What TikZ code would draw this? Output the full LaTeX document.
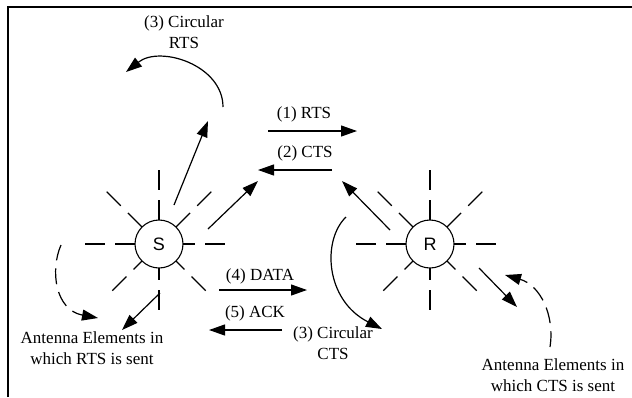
\documentclass[tikz,border=0pt]{standalone}
\usepackage{fontspec}
\setmainfont{Liberation Serif}
\newfontfamily\stnfont{Liberation Sans}
\usetikzlibrary{arrows.meta,backgrounds}

\begin{document}
\begin{tikzpicture}[x=1pt,y=-1pt,
  every node/.style={font=\fontsize{17}{20.5}\selectfont,align=center},
  station/.style={circle,draw,fill=white,line width=1.1pt,minimum size=48pt,
                  inner sep=0pt,font=\fontsize{18}{20}\stnfont},
  elem/.style={line width=1.1pt,dash pattern=on 20pt off 10pt},
  sig/.style={line width=1.2pt,-{Triangle[length=16pt,width=11pt]}},
  sweep/.style={sig,dash pattern=on 16pt off 8pt}]
  \useasboundingbox (0,0) rectangle (632,397);
  \draw[line width=2pt] (8,397) -- (8,7) -- (632,7);

  % stations and their antenna elements
  \node[station] (S) at (159,244) {S};
  \node[station] (R) at (430,244) {R};
  \begin{scope}[on background layer]
    \foreach \n in {S,R}
      \foreach \a in {180,225,270,315}
        \draw[elem] ([shift={(\a:74)}]\n.center) -- ([shift={(\a+180:66)}]\n.center);
  \end{scope}

  % labels
  \node (circrts) at (184,32)  {(3) Circular\\RTS};
  \node (rtslbl)  at (304,114) {(1) RTS};
  \node (ctslbl)  at (305,153) {(2) CTS};
  \node (datalbl) at (260,276) {(4) DATA};
  \node (acklbl)  at (255,313) {(5) ACK};
  \node (circcts) at (333,343) {(3) Circular\\CTS};
  \node (rtsset)  at (92,348)  {Antenna Elements in\\which RTS is sent};
  \node (ctsset)  at (553,375) {Antenna Elements in\\which CTS is sent};

  % end points of the signals
  \coordinate (sUp)    at (174,205);  \coordinate (sUpE)   at (208,121);
  \coordinate (arcA)   at (223,107);  \coordinate (arcB)   at (126,72);
  \coordinate (sDiag)  at (208,229);  \coordinate (sDiagE) at (258,181);
  \coordinate (rtsA)   at (268,131);  \coordinate (rtsB)   at (357,131);
  \coordinate (ctsA)   at (332,170);  \coordinate (ctsB)   at (258,170);
  \coordinate (rDiag)  at (390,230);  \coordinate (rDiagE) at (342,181);
  \coordinate (arcC)   at (346,217);  \coordinate (arcD)   at (382,329);
  \coordinate (rLow)   at (479,268);  \coordinate (rLowE)  at (517,307);
  \coordinate (swR)    at (550,347);  \coordinate (swRE)   at (505,275);
  \coordinate (sLow)   at (160,293);  \coordinate (sLowE)  at (122,330);
  \coordinate (swS)    at (61,245);   \coordinate (swSE)   at (98,318);
  \coordinate (dataA)  at (219,290);  \coordinate (dataB)  at (307,290);
  \coordinate (ackA)   at (282,330);  \coordinate (ackB)   at (209,330);

  \draw[sig] (sUp) -- (sUpE);
  \draw[sig] (arcA) .. controls (223,65) and (160,45) .. (arcB);
  \draw[sig] (sDiag) -- (sDiagE);
  \draw[sig] (rtsA) -- (rtsB);
  \draw[sig] (ctsA) -- (ctsB);
  \draw[sig] (rDiag) -- (rDiagE);
  \draw[sig] (arcC) .. controls (322,240) and (325,300) .. (arcD);
  \draw[sig] (rLow) -- (rLowE);
  \draw[sweep] (swR) .. controls (555,315) and (540,285) .. (swRE);
  \draw[sig] (sLow) -- (sLowE);
  \draw[sweep] (swS) .. controls (50,270) and (55,310) .. (swSE);
  \draw[sig] (dataA) -- (dataB);
  \draw[sig] (ackA) -- (ackB);
\end{tikzpicture}
\end{document}
